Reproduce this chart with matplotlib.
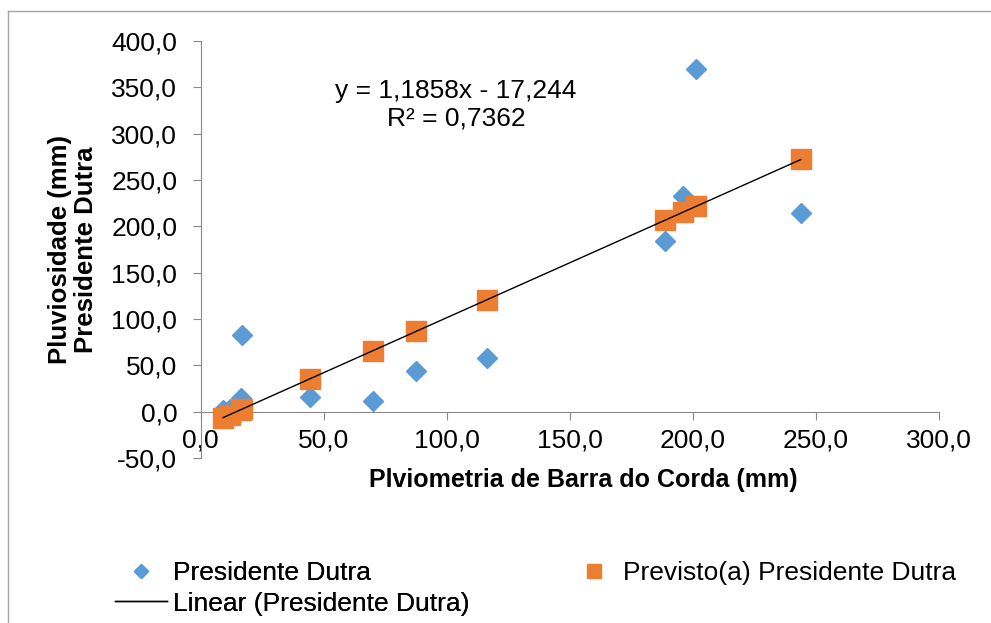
import numpy as np
import matplotlib.pyplot as plt
from matplotlib.lines import Line2D
from matplotlib.ticker import FuncFormatter, MultipleLocator

plt.rcParams['font.family'] = ['Liberation Sans', 'DejaVu Sans']

# Barra do Corda (x) vs Presidente Dutra (y)
x_obs = [9.1, 11.9, 16.2, 16.6, 44.4, 70.1, 87.7, 116.2, 188.9, 196.1, 201.5, 243.9]
y_obs = [2.0, 3.0, 15.1, 82.2, 16.2, 11.4, 43.8, 57.4, 184.6, 232.3, 369.6, 214.4]
y_prev = [-6.5, -3.1, 2.0, 2.4, 35.4, 65.9, 86.8, 120.8, 206.9, 215.3, 221.7, 272.2]

slope = 1.1858
intercept = -17.244

blue = '#5B9BD5'
orange = '#ED7D31'
axis_gray = '#898989'
fs = 19

fig = plt.figure(figsize=(9.91, 6.23), dpi=100)
ax = fig.add_axes([0.2025, 0.2649, 0.9472 - 0.2025, 0.9342 - 0.2649])

ax.plot(x_obs, y_obs, ls='', marker='D', ms=9.8, color=blue, mec=blue, zorder=3)
ax.plot(x_obs, y_prev, ls='', marker='s', ms=14, color=orange, mec=orange, zorder=4)
xl = np.array([min(x_obs), max(x_obs)])
ax.plot(xl, slope * xl + intercept, color='black', lw=1.0, zorder=5)

ax.set_xlim(0, 300)
ax.set_ylim(-50, 400)
ax.xaxis.set_major_locator(MultipleLocator(50))
ax.yaxis.set_major_locator(MultipleLocator(50))
fmt = FuncFormatter(lambda v, p: f'{v:.1f}'.replace('.', ','))
ax.xaxis.set_major_formatter(fmt)
ax.yaxis.set_major_formatter(fmt)

for s in ['top', 'right']:
    ax.spines[s].set_visible(False)
ax.spines['bottom'].set_position(('data', 0))
for s in ['left', 'bottom']:
    ax.spines[s].set_color(axis_gray)
    ax.spines[s].set_linewidth(0.8)

ax.tick_params(axis='both', direction='out', length=5.8, width=0.8, color=axis_gray,
               labelsize=fs, labelcolor='black')
ax.tick_params(axis='x', pad=6)
ax.tick_params(axis='y', pad=11)

ax.set_xlabel('Plviometria de Barra do Corda (mm)', fontsize=18, fontweight='bold')
ax.xaxis.set_label_coords(0.518, -0.053)
ax.xaxis.label.set_va('center')
ax.set_ylabel('Pluviosidade (mm)\nPresidente Dutra', fontsize=18.5, fontweight='bold',
              linespacing=1.1)
ax.yaxis.set_label_coords(-0.173, 0.5)
ax.yaxis.label.set_va('center')
ax.yaxis.label.set_ha('center')

ax.text(103.8, 331, 'y = 1,1858x - 17,244\nR² = 0,7362', ha='center', va='center',
        multialignment='center', fontsize=fs, linespacing=1.2)

# legend
h_blue = Line2D([], [], ls='', marker='D', ms=7.5, color=blue)
h_lin = Line2D([], [], color='black', lw=1.0)
h_or = Line2D([], [], ls='', marker='s', ms=10, color=orange)
leg1 = fig.legend([h_blue, h_lin], ['Presidente Dutra', 'Linear (Presidente Dutra)'],
                  loc='upper left', bbox_to_anchor=(115 / 991, 1 - 561 / 623),
                  frameon=False, fontsize=fs, borderpad=0, borderaxespad=0,
                  handlelength=1.98, handletextpad=0.2, labelspacing=0.25)
fig.add_artist(leg1)
fig.legend([h_or], ['Previsto(a) Presidente Dutra'],
           loc='upper left', bbox_to_anchor=(568 / 991, 1 - 561 / 623),
           frameon=False, fontsize=fs, borderpad=0, borderaxespad=0,
           handlelength=1.98, handletextpad=0.1)

# chart area border (cut off at the right and bottom)
fig.add_artist(Line2D([8 / 991, 8 / 991], [0, 1 - 11 / 623], transform=fig.transFigure,
                      color='#A6A6A6', lw=1.0))
fig.add_artist(Line2D([8 / 991, 1], [1 - 11 / 623, 1 - 11 / 623], transform=fig.transFigure,
                      color='#A6A6A6', lw=1.0))

fig.savefig('out.png', dpi=100)
